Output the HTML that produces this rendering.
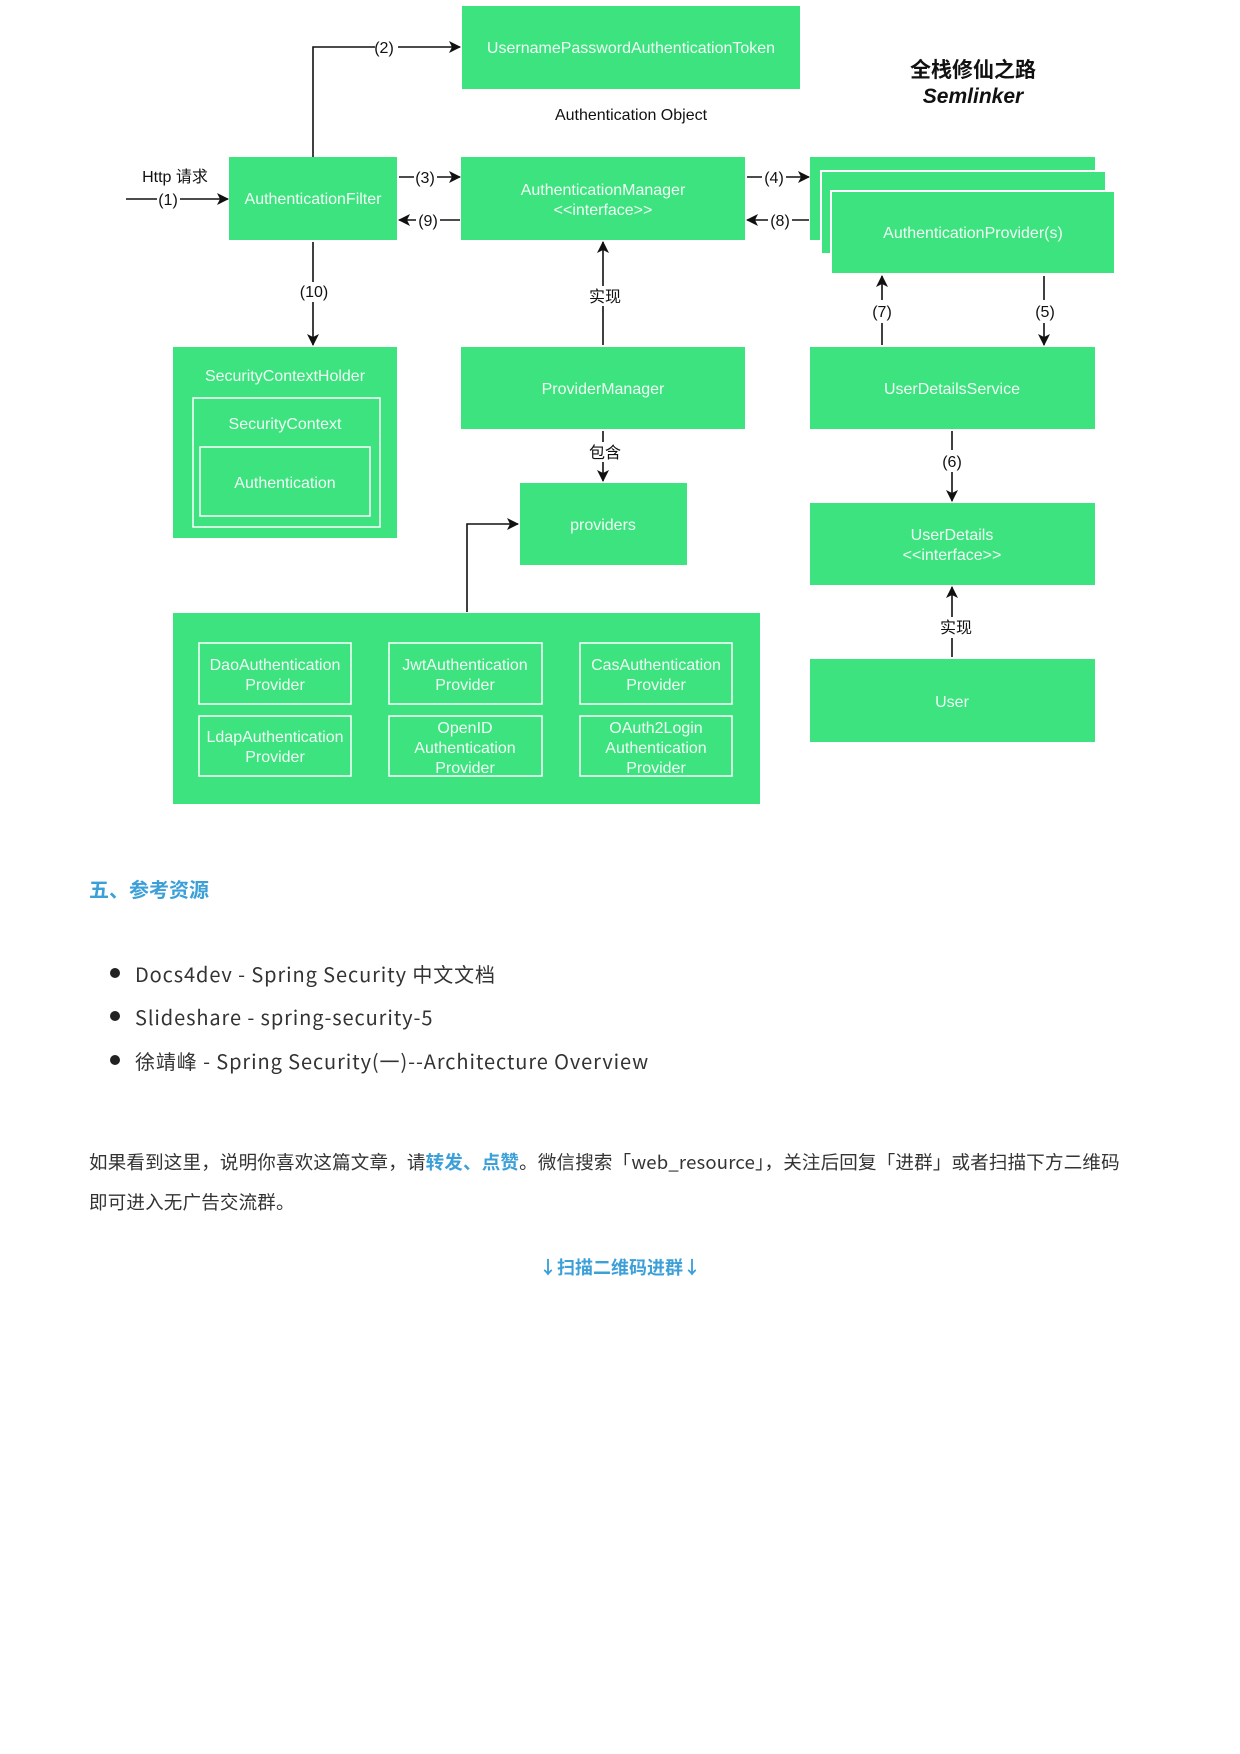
<!DOCTYPE html>
<html><head><meta charset="utf-8"><style>
body{margin:0;width:1240px;height:1754px;background:#fff;position:relative;overflow:hidden;font-family:"Liberation Sans","Noto Sans CJK SC",sans-serif}
.t{position:absolute;font-family:"Noto Sans CJK SC","Liberation Sans",sans-serif;color:#333;white-space:nowrap}
svg{position:absolute;left:0;top:0}
</style></head><body>
<svg width="1240" height="830" viewBox="0 0 1240 830" font-family="Liberation Sans, Noto Sans CJK SC, sans-serif">
<defs><marker id="a" markerWidth="12" markerHeight="12" refX="11" refY="6" orient="auto" markerUnits="userSpaceOnUse"><path d="M0,0 L12,6 L0,12 L3,6z" fill="#111"/></marker></defs>
<g fill="#3de37f">
<rect x="462" y="6" width="338" height="83"/>
<rect x="229" y="157" width="168" height="83"/>
<rect x="461" y="157" width="284" height="83"/>
<rect x="810" y="157" width="285" height="83"/>
<rect x="821" y="171" width="285" height="83" stroke="#fff" stroke-width="2"/>
<rect x="831" y="191" width="284" height="83" stroke="#fff" stroke-width="2"/>
<rect x="173" y="347" width="224" height="191"/>
<rect x="461" y="347" width="284" height="82"/>
<rect x="810" y="347" width="285" height="82"/>
<rect x="520" y="483" width="167" height="82"/>
<rect x="810" y="503" width="285" height="82"/>
<rect x="810" y="659" width="285" height="83"/>
<rect x="173" y="613" width="587" height="191"/>
</g>
<g fill="none" stroke="#fff" stroke-width="1.5">
<rect x="193" y="398" width="187" height="129"/>
<rect x="200" y="447" width="170" height="69"/>
<rect x="199" y="643" width="152" height="61"/><rect x="389" y="643" width="153" height="61"/><rect x="580" y="643" width="152" height="61"/>
<rect x="199" y="716" width="152" height="60"/><rect x="389" y="716" width="153" height="60"/><rect x="580" y="716" width="152" height="60"/>
</g>
<g fill="#fff" font-size="16" text-anchor="middle" fill-opacity="0.92">
<text x="631" y="53">UsernamePasswordAuthenticationToken</text>
<text x="313" y="204">AuthenticationFilter</text>
<text x="603" y="195">AuthenticationManager</text>
<text x="603" y="215">&lt;&lt;interface&gt;&gt;</text>
<text x="973" y="238">AuthenticationProvider(s)</text>
<text x="285" y="381">SecurityContextHolder</text>
<text x="285" y="429">SecurityContext</text>
<text x="285" y="488">Authentication</text>
<text x="603" y="394">ProviderManager</text>
<text x="952" y="394">UserDetailsService</text>
<text x="603" y="530">providers</text>
<text x="952" y="540">UserDetails</text>
<text x="952" y="560">&lt;&lt;interface&gt;&gt;</text>
<text x="952" y="707">User</text>
<text x="275" y="670">DaoAuthentication</text><text x="275" y="690">Provider</text>
<text x="465" y="670">JwtAuthentication</text><text x="465" y="690">Provider</text>
<text x="656" y="670">CasAuthentication</text><text x="656" y="690">Provider</text>
<text x="275" y="742">LdapAuthentication</text><text x="275" y="762">Provider</text>
<text x="465" y="733">OpenID</text><text x="465" y="753">Authentication</text><text x="465" y="773">Provider</text>
<text x="656" y="733">OAuth2Login</text><text x="656" y="753">Authentication</text><text x="656" y="773">Provider</text>
</g>
<g stroke="#111" stroke-width="1.6" fill="none">
<path d="M313,157 V47 H375 M398,47 H460" marker-end="url(#a)"/>
<path d="M126,199 H157 M180,199 H228" marker-end="url(#a)"/>
<path d="M399,177 H414 M437,177 H460" marker-end="url(#a)"/>
<path d="M460,220 H440 M416,220 H399" marker-end="url(#a)"/>
<path d="M747,177 H762 M786,177 H809" marker-end="url(#a)"/>
<path d="M809,220 H792 M768,220 H747" marker-end="url(#a)"/>
<path d="M313,242 V282 M313,302 V345" marker-end="url(#a)"/>
<path d="M603,345 V306 M603,286 V242" marker-end="url(#a)"/>
<path d="M882,345 V323 M882,300 V276" marker-end="url(#a)"/>
<path d="M1044,276 V300 M1044,323 V345" marker-end="url(#a)"/>
<path d="M603,431 V442 M603,462 V481" marker-end="url(#a)"/>
<path d="M952,431 V450 M952,472 V501" marker-end="url(#a)"/>
<path d="M952,657 V638 M952,617 V587" marker-end="url(#a)"/>
<path d="M467,612 V524 H518" marker-end="url(#a)"/>
</g>
<g fill="#111" font-size="16" text-anchor="middle">
<text x="384" y="53">(2)</text>
<text x="631" y="120">Authentication Object</text>
<text x="175" y="182">Http 请求</text>
<text x="168" y="205">(1)</text>
<text x="425" y="183">(3)</text>
<text x="428" y="226">(9)</text>
<text x="774" y="183">(4)</text>
<text x="780" y="226">(8)</text>
<text x="314" y="297">(10)</text>
<text x="605" y="302">实现</text>
<text x="882" y="317">(7)</text>
<text x="1045" y="317">(5)</text>
<text x="605" y="458">包含</text>
<text x="952" y="467">(6)</text>
<text x="956" y="633">实现</text>
<text x="973" y="77" font-size="21" font-weight="bold">全栈修仙之路</text>
<text x="973" y="103" font-size="21" font-weight="bold" font-style="italic">Semlinker</text>
</g>
</svg>
<div class="t" style="left:89px;top:874px;font-size:20px;font-weight:bold;color:#3b9fd8">五、参考资源</div>
<div style="position:absolute;left:110px;top:968px;width:10px;height:10px;border-radius:50%;background:#222"></div>
<div style="position:absolute;left:110px;top:1011px;width:10px;height:10px;border-radius:50%;background:#222"></div>
<div style="position:absolute;left:110px;top:1055px;width:10px;height:10px;border-radius:50%;background:#222"></div>
<div class="t" style="left:135px;top:959px;font-size:20px;letter-spacing:0.9px">Docs4dev - Spring Security 中文文档</div>
<div class="t" style="left:135px;top:1002px;font-size:20px;letter-spacing:0.9px">Slideshare - spring-security-5</div>
<div class="t" style="left:135px;top:1046px;font-size:20px;letter-spacing:0.9px">徐靖峰 - Spring Security(一)--Architecture Overview</div>
<div class="t" style="left:89px;top:1149px;font-size:18.5px;letter-spacing:0.2px">如果看到这里，说明你喜欢这篇文章，请<b style="color:#3b9fd8">转发、点赞</b>。微信搜索「web_resource」，关注后回复「进群」或者扫描下方二维码</div>
<div class="t" style="left:89px;top:1189px;font-size:18.5px;letter-spacing:0.2px">即可进入无广告交流群。</div>
<div class="t" style="left:0;width:1240px;text-align:center;top:1254px;font-size:18px;font-weight:bold;color:#3b9fd8">↓扫描二维码进群↓</div>
</body></html>
